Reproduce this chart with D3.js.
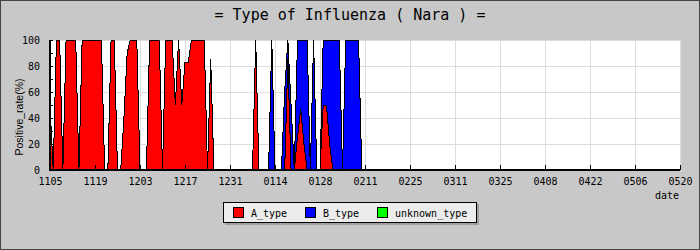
<!DOCTYPE html>
<html>
<head>
<meta charset="utf-8">
<script src="https://cdn.jsdelivr.net/npm/d3@7"></script>
<style>
  body { margin: 0; background: #c8c8c8; }
  text { font-family: "DejaVu Sans Mono", monospace; fill: #000; }
</style>
</head>
<body>
<script>
// daily positive rate (%) from 2014-11-05
const startDay = "20141105";
const aType = [
  50, 0, 100, 100, 0, 100, 100, 100, 100, 0,
  100, 100, 100, 100, 100, 100, 100, 0, 0, 100,
  100, 0, 0, 40, 90, 100, 100, 100, 0, 0,
  0, 100, 100, 100, 100, 0, 100, 100, 100, 50,
  100, 50, 83, 83, 100, 100, 100, 100, 100, 0,
  85, 0, 0, 0, 0, 0, 0, 0, 0, 0,
  0, 0, 0, 0, 100, 0, 0, 0, 0, 0,
  0, 0, 0, 0, 85, 0, 0, 25, 47, 20,
  0, 0, 0, 0, 0, 50, 50, 20, 0, 0,
  0, 0, 0, 0, 0, 0, 0, 0
];
const bType = [
  0, 0, 0, 0, 0, 0, 0, 0, 0, 0,
  0, 0, 0, 0, 0, 0, 0, 0, 0, 0,
  0, 0, 0, 0, 0, 0, 0, 0, 0, 0,
  0, 0, 0, 0, 0, 0, 0, 0, 0, 0,
  0, 0, 0, 0, 0, 0, 0, 0, 0, 0,
  0, 0, 0, 0, 0, 0, 0, 0, 0, 0,
  0, 0, 0, 0, 0, 0, 0, 0, 0, 100,
  0, 0, 0, 60, 100, 50, 0, 100, 100, 100,
  100, 0, 100, 0, 0, 100, 100, 100, 100, 100,
  100, 0, 100, 100, 100, 100, 100, 0
];
const unknownType = aType.map(() => 0);

const tickLabels = ["1105", "1119", "1203", "1217", "1231", "0114", "0128",
                    "0211", "0225", "0311", "0325", "0408", "0422", "0506", "0520"];
const yTicks = [0, 20, 40, 60, 80, 100];
const seriesNames = ["A_type", "B_type", "unknown_type"];
const seriesColors = ["#ff0000", "#0000ff", "#00ff00"];

const w = 700;
const h = 250;
const m = {left: 50, right: 680, top: 40, bottom: 170};

const parse = d3.utcParse("%Y%m%d");
const t0 = parse(startDay);
const tickDates = tickLabels.map(s => parse((s[0] === "1" ? "2014" : "2015") + s));

const svg = d3.select("body")
              .append("svg")
              .attr("width", w)
              .attr("height", h);

svg.append("rect")
   .attr("x", 0.5).attr("y", 0.5)
   .attr("width", w - 1).attr("height", h - 1)
   .attr("fill", "#c8c8c8")
   .attr("stroke", "#444");

const x = d3.scaleUtc()
            .domain([tickDates[0], tickDates[tickDates.length - 1]])
            .range([m.left, m.right]);
const y = d3.scaleLinear()
            .domain([0, 100])
            .range([m.bottom, m.top]);

// plot background + grid
svg.append("rect")
   .attr("x", m.left).attr("y", m.top)
   .attr("width", m.right - m.left).attr("height", m.bottom - m.top)
   .attr("fill", "#fff");

const grid = svg.append("g")
                .attr("stroke", "#dcdcdc")
                .attr("shape-rendering", "crispEdges");
grid.selectAll(".vg")
    .data(tickDates.slice(1))
    .enter().append("line")
    .attr("x1", d => x(d)).attr("x2", d => x(d))
    .attr("y1", m.top).attr("y2", m.bottom);
grid.selectAll(".hg")
    .data(yTicks.slice(1))
    .enter().append("line")
    .attr("x1", m.left).attr("x2", m.right)
    .attr("y1", d => y(d)).attr("y2", d => y(d));

// areas, red drawn last so it sits on top
const area = d3.area()
               .x((d, i) => x(d3.utcDay.offset(t0, i)))
               .y0(y(0))
               .y1(d => y(d))
               .curve(d3.curveLinear);

const drawOrder = [[unknownType, 2], [bType, 1], [aType, 0]];
svg.append("g")
   .selectAll("path")
   .data(drawOrder)
   .enter().append("path")
   .attr("d", d => area(d[0]))
   .attr("fill", d => seriesColors[d[1]])
   .attr("stroke", "#000")
   .attr("stroke-width", 1)
   .attr("shape-rendering", "crispEdges");

// axes (ticks point inward)
const xAxis = d3.axisBottom(x)
                .tickValues(tickDates)
                .tickSize(-5)
                .tickPadding(13)
                .tickFormat((d, i) => tickLabels[i]);
const gx = svg.append("g")
              .attr("transform", `translate(0,${m.bottom})`)
              .call(xAxis);
gx.select(".domain").remove();
gx.selectAll("line").attr("stroke", "#000").attr("shape-rendering", "crispEdges");
gx.selectAll("text").style("font-size", "10px").attr("dy", "0.2em");

const yAxis = d3.axisLeft(y)
                .ticks(10)
                .tickSize(-3)
                .tickPadding(10)
                .tickFormat(d => yTicks.includes(d) ? d : "");
const gy = svg.append("g")
              .attr("transform", `translate(${m.left},0)`)
              .call(yAxis);
gy.select(".domain").remove();
gy.selectAll("line").attr("stroke", "#000").attr("shape-rendering", "crispEdges");
gy.selectAll("text").style("font-size", "10px");

svg.append("path")
   .attr("d", `M${m.left},${m.top}V${m.bottom}H${m.right}`)
   .attr("fill", "none")
   .attr("stroke", "#000")
   .attr("stroke-width", 2)
   .attr("shape-rendering", "crispEdges");

// texts
svg.append("text")
   .text("= Type of Influenza ( Nara ) =")
   .attr("x", w / 2)
   .attr("y", 20)
   .attr("text-anchor", "middle")
   .style("font-size", "15px");

svg.append("text")
   .text("Positive_rate(%)")
   .attr("transform", "translate(23,117) rotate(-90)")
   .attr("text-anchor", "middle")
   .style("font-family", "'Liberation Sans', sans-serif")
   .style("font-size", "10.5px");

svg.append("text")
   .text("date")
   .attr("x", 679)
   .attr("y", 199)
   .attr("text-anchor", "end")
   .style("font-size", "10px");

// legend
const legend = svg.append("g").attr("transform", "translate(223,202)");
legend.append("rect")
      .attr("x", 2).attr("y", 2)
      .attr("width", 254).attr("height", 21)
      .attr("fill", "#a0a0a0");
legend.append("rect")
      .attr("x", 0.5).attr("y", 0.5)
      .attr("width", 253).attr("height", 20)
      .attr("fill", "#ececec")
      .attr("stroke", "#000");

const itemX = [10, 82, 154];
const item = legend.selectAll(".item")
                   .data(seriesNames)
                   .enter().append("g")
                   .attr("transform", (d, i) => `translate(${itemX[i]},0)`);
item.append("rect")
    .attr("x", 0.5).attr("y", 5.5)
    .attr("width", 10).attr("height", 10)
    .attr("fill", (d, i) => seriesColors[i])
    .attr("stroke", "#000");
item.append("text")
    .text(d => d)
    .attr("x", 18)
    .attr("y", 14.5)
    .style("font-size", "10px");
</script>
</body>
</html>
